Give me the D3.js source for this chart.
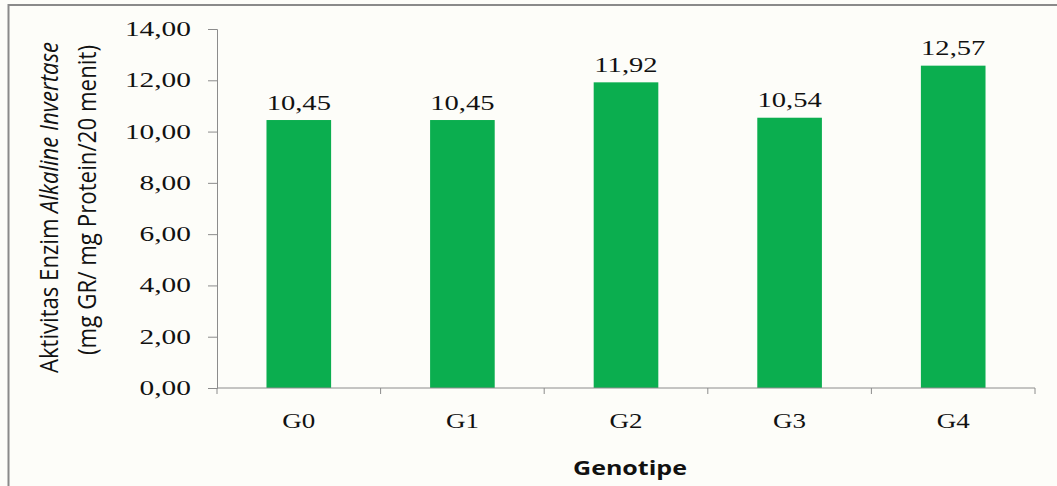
<!DOCTYPE html>
<html>
<head>
<meta charset="utf-8">
<script src="https://cdn.jsdelivr.net/npm/d3@7"></script>
<style>
  html, body { margin: 0; padding: 0; background: #fdfdf9; }
  svg { display: block; }
</style>
</head>
<body>
<svg id="chart" width="1057" height="486"></svg>
<script>
// Alkaline invertase activity per genotype
const genotypes = ["G0", "G1", "G2", "G3", "G4"];
const activity = [10.45, 10.45, 11.92, 10.54, 12.57];
const yTicks = [0, 2, 4, 6, 8, 10, 12, 14];

const fmt = v => v.toFixed(2).replace(".", ",");

const svg = d3.select("#chart");
const W = 1057, H = 486;

// frame lines (top and left)
svg.append("line").attr("x1", 8.5).attr("x2", W).attr("y1", 5).attr("y2", 5)
  .attr("stroke", "#8a8a8a").attr("stroke-width", 2);
svg.append("line").attr("x1", 8.5).attr("x2", 8.5).attr("y1", 4).attr("y2", H)
  .attr("stroke", "#8a8a8a").attr("stroke-width", 2);

const plot = { left: 217, right: 1035, top: 29, bottom: 388 };

const x = d3.scaleBand()
  .domain(genotypes)
  .range([plot.left, plot.right])
  .paddingInner(0.605)
  .paddingOuter(0.3025);

const y = d3.scaleLinear()
  .domain([0, 14])
  .range([plot.bottom, plot.top]);

const axisColor = "#8c8c8c";
const serif = "'Liberation Serif', 'Times New Roman', serif";

// bars
svg.append("g").selectAll("rect")
  .data(genotypes)
  .join("rect")
  .attr("x", d => x(d))
  .attr("width", x.bandwidth())
  .attr("y", (d, i) => y(activity[i]))
  .attr("height", (d, i) => y(0) - y(activity[i]))
  .attr("fill", "#0bae4f");

// y axis
const yAxis = svg.append("g")
  .attr("transform", `translate(${plot.left},0)`)
  .call(d3.axisLeft(y).tickValues(yTicks).tickSize(9).tickPadding(0).tickFormat(""));
yAxis.select(".domain").attr("stroke", axisColor);
yAxis.selectAll(".tick line").attr("stroke", axisColor);

// y tick labels (horizontally stretched serif)
svg.append("g").selectAll("text")
  .data(yTicks)
  .join("text")
  .attr("transform", d => `translate(191,${y(d) + 7}) scale(1.4,1)`)
  .attr("text-anchor", "end")
  .attr("font-family", serif)
  .attr("font-size", 21)
  .attr("fill", "#111")
  .text(fmt);

// x axis: ticks at band boundaries
const xAxis = svg.append("g")
  .attr("transform", `translate(0,${plot.bottom})`);
xAxis.append("line")
  .attr("x1", plot.left).attr("x2", plot.right)
  .attr("stroke", axisColor);
const step = x.step();
const boundaries = d3.range(genotypes.length + 1).map(i => plot.left + i * step);
xAxis.selectAll(".xt")
  .data(boundaries)
  .join("line")
  .attr("class", "xt")
  .attr("x1", d => d).attr("x2", d => d)
  .attr("y1", 0).attr("y2", 6)
  .attr("stroke", axisColor);

// category labels
svg.append("g").selectAll("text")
  .data(genotypes)
  .join("text")
  .attr("transform", d => `translate(${x(d) + x.bandwidth() / 2},428) scale(1.35,1)`)
  .attr("text-anchor", "middle")
  .attr("font-family", serif)
  .attr("font-size", 20)
  .attr("fill", "#111")
  .text(d => d);

// value labels
svg.append("g").selectAll("text")
  .data(genotypes)
  .join("text")
  .attr("transform", (d, i) => `translate(${x(d) + x.bandwidth() / 2},${y(activity[i]) - 10.5}) scale(1.3,1)`)
  .attr("text-anchor", "middle")
  .attr("font-family", serif)
  .attr("font-size", 22)
  .attr("fill", "#111")
  .text((d, i) => fmt(activity[i]));

// x axis title
svg.append("text")
  .attr("x", 630).attr("y", 475)
  .attr("text-anchor", "middle")
  .attr("font-family", "'Open Sans', 'DejaVu Sans', sans-serif")
  .attr("font-weight", "bold")
  .attr("font-size", 19)
  .attr("textLength", 114)
  .attr("lengthAdjust", "spacingAndGlyphs")
  .attr("fill", "#111")
  .text("Genotipe");

// y axis title (two lines, rotated, widened across the line height)
const sans = "'Open Sans', 'DejaVu Sans', sans-serif";
const t1 = svg.append("g")
  .attr("transform", "translate(58,207.5) rotate(-90) scale(1,1.3)")
  .append("text")
  .attr("text-anchor", "middle")
  .attr("font-family", sans)
  .attr("font-size", 20)
  .attr("textLength", 331)
  .attr("lengthAdjust", "spacingAndGlyphs")
  .attr("fill", "#111");
t1.append("tspan").text("Aktivitas Enzim ");
t1.append("tspan").attr("font-style", "italic").text("Alkaline Invertase");

svg.append("g")
  .attr("transform", "translate(96,200) rotate(-90) scale(1,1.3)")
  .append("text")
  .attr("text-anchor", "middle")
  .attr("font-family", sans)
  .attr("font-size", 20)
  .attr("textLength", 310)
  .attr("lengthAdjust", "spacingAndGlyphs")
  .attr("fill", "#111")
  .text("(mg GR/ mg Protein/20 menit)");
</script>
</body>
</html>
